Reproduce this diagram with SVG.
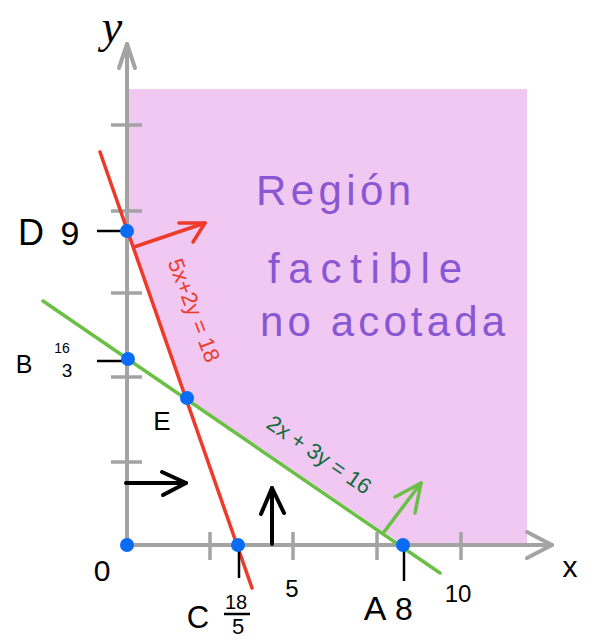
<svg xmlns="http://www.w3.org/2000/svg" width="592" height="641" viewBox="0 0 592 641">
<style>
.axis{stroke:#A3A3A3;stroke-width:4;fill:none;stroke-linecap:round;stroke-linejoin:round}
.tick{stroke:#A3A3A3;stroke-width:3.5;fill:none}
.mark{stroke:#000;stroke-width:2.5;fill:none}
.red{stroke:#EE3A28;stroke-width:3.5;fill:none;stroke-linecap:round;stroke-linejoin:round}
.green{stroke:#6ABF45;stroke-width:3.5;fill:none;stroke-linecap:round;stroke-linejoin:round}
.blk{stroke:#000;stroke-width:4;fill:none;stroke-linecap:round;stroke-linejoin:round}
.dot{fill:#0A6CF5}
.lab{font-family:"Liberation Sans","DejaVu Sans",sans-serif;fill:#000}
.reg{font-family:"Liberation Sans","DejaVu Sans",sans-serif;fill:#8A57D4;font-size:42px}
</style>
<rect width="592" height="641" fill="#fff"/>
<g id="region">
<polygon points="127,89 527,89 527,545 403,545 187,398 127,230" fill="#F0C8F2"/>
</g>
<g id="axes">
<line class="axis" x1="127" y1="545" x2="127" y2="44"/>
<polyline class="axis" points="119,68 127,44 135,68"/>
<line class="axis" x1="127" y1="545" x2="552" y2="545"/>
<polyline class="axis" points="527,532 552,545 527,558"/>
<g class="tick">
<line x1="111" y1="125" x2="142" y2="125"/>
<line x1="111" y1="211" x2="142" y2="211"/>
<line x1="111" y1="293" x2="142" y2="293"/>
<line x1="111" y1="377" x2="142" y2="377"/>
<line x1="111" y1="462" x2="142" y2="462"/>
<line x1="210" y1="532" x2="210" y2="560"/>
<line x1="293" y1="532" x2="293" y2="560"/>
<line x1="377" y1="532" x2="377" y2="560"/>
<line x1="461" y1="532" x2="461" y2="560"/>
</g>
<text class="lab" x="570" y="577" font-size="30" text-anchor="middle">x</text>
<text x="112" y="42" font-family="Liberation Serif,serif" font-style="italic" font-size="46" text-anchor="middle">y</text>
<text class="lab" x="292" y="597" font-size="24" text-anchor="middle">5</text>
<text class="lab" x="458" y="602" font-size="24" text-anchor="middle">10</text>
<text class="lab" x="102" y="581" font-size="30" text-anchor="middle">0</text>
</g>
<g id="connectors">
<line class="red" x1="100" y1="152" x2="252" y2="588"/>
<line class="green" x1="43" y1="301" x2="440" y2="573"/>
<g id="red-arrow">
<polyline class="red" points="134,247 205,223"/>
<polyline class="red" points="179,223 205,223 193,242"/>
</g>
<g id="green-arrow">
<polyline class="green" points="384,532 421,483"/>
<polyline class="green" points="395,497 421,483 415,513"/>
</g>
<g id="x-arrow">
<line class="blk" x1="126" y1="483" x2="186" y2="483"/>
<polyline class="blk" points="162,472 186,483 163,495"/>
</g>
<g id="y-arrow">
<line class="blk" x1="272" y1="544" x2="272" y2="488"/>
<polyline class="blk" points="261,514 272,488 284,513"/>
</g>
<text class="lab" style="fill:#EE3A28" font-size="22" text-anchor="middle" transform="translate(187,313) rotate(69)">5x+2y = 18</text>
<text class="lab" style="fill:#0E6B3A" font-size="22" text-anchor="middle" transform="translate(315,461) rotate(34.5)">2x + 3y = 16</text>
</g>
<g id="node-D">
<line class="mark" x1="97" y1="231" x2="127" y2="231"/>
<circle class="dot" cx="127" cy="231" r="7"/>
<text class="lab" x="31" y="245" font-size="36" text-anchor="middle">D</text>
<text class="lab" x="70" y="245" font-size="34" text-anchor="middle">9</text>
</g>
<g id="node-B">
<line class="mark" x1="97" y1="361" x2="127" y2="361"/>
<circle class="dot" cx="128" cy="359" r="7"/>
<text class="lab" x="24" y="373" font-size="25" text-anchor="middle">B</text>
<text class="lab" x="62" y="353" font-size="14" text-anchor="middle">16</text>
<text class="lab" x="67" y="377" font-size="19" text-anchor="middle">3</text>
</g>
<g id="node-E">
<circle class="dot" cx="187" cy="398" r="7"/>
<text class="lab" x="162" y="430" font-size="26" text-anchor="middle">E</text>
</g>
<g id="node-O">
<circle class="dot" cx="127" cy="545" r="7"/>
</g>
<g id="node-C">
<line class="mark" x1="239" y1="545" x2="239" y2="578"/>
<circle class="dot" cx="238" cy="545" r="7"/>
<text class="lab" x="198" y="628" font-size="31" text-anchor="middle">C</text>
<text class="lab" x="236" y="609" font-size="20" text-anchor="middle">18</text>
<line class="mark" x1="224" y1="614" x2="250" y2="614"/>
<text class="lab" x="238" y="634" font-size="22" text-anchor="middle">5</text>
</g>
<g id="node-A">
<line class="mark" x1="404" y1="545" x2="404" y2="581"/>
<circle class="dot" cx="403" cy="545" r="7"/>
<text class="lab" x="375" y="620" font-size="34" text-anchor="middle">A</text>
<text class="lab" x="404" y="620" font-size="32" text-anchor="middle">8</text>
</g>
<g id="label-region">
<text class="reg" x="256" y="205" textLength="155" lengthAdjust="spacing">Región</text>
<text class="reg" x="268" y="283" textLength="194" lengthAdjust="spacing">factible</text>
<text class="reg" x="260" y="336" textLength="245" lengthAdjust="spacing">no  acotada</text>
</g>
</svg>
